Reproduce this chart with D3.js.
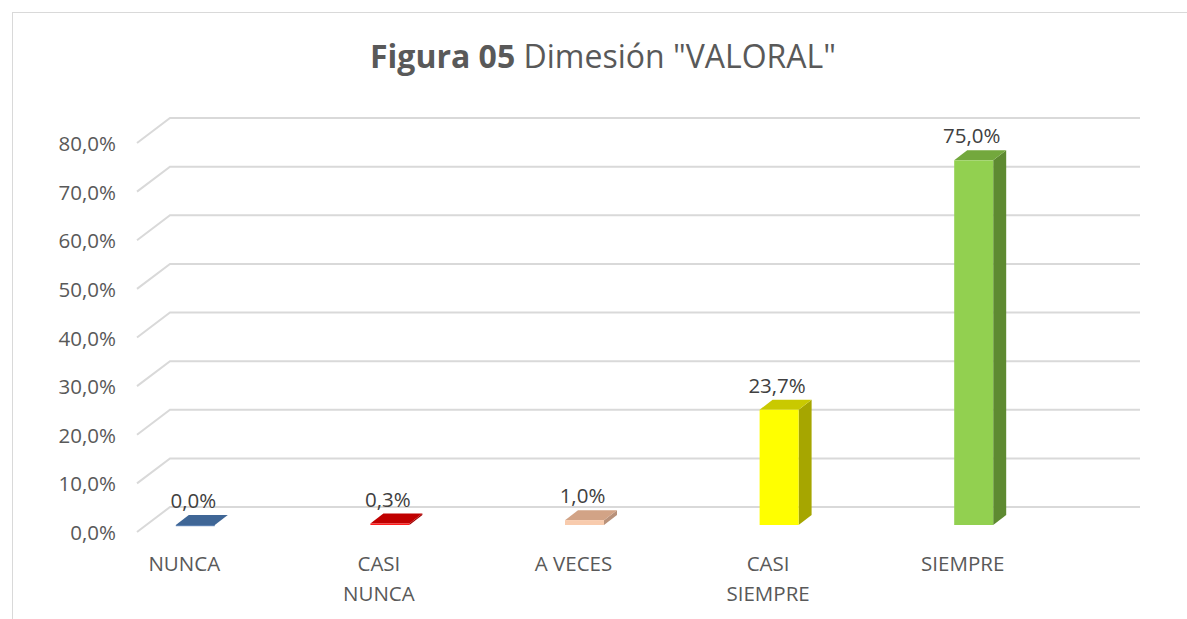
<!DOCTYPE html>
<html lang="es">
<head>
<meta charset="UTF-8">
<title>Figura 05</title>
<script src="https://d3js.org/d3.v7.min.js"></script>
<style>
  body { margin: 0; background: #fff; overflow: hidden; }
  svg { display: block; font-family: 'Open Sans', 'Noto Sans', sans-serif; }
  .grid { stroke: #d9d9d9; stroke-width: 2; fill: none; }
  .ytick { fill: #595959; font-size: 20.5px; text-anchor: end; }
  .xcat { fill: #595959; font-size: 20.5px; text-anchor: middle; }
  .val { fill: #404040; font-size: 20.5px; text-anchor: middle; }
</style>
</head>
<body>
<svg width="1187" height="619"></svg>
<script>
const categories = [["NUNCA"], ["CASI", "NUNCA"], ["A VECES"], ["CASI", "SIEMPRE"], ["SIEMPRE"]];
const values = [0.0, 0.3, 1.0, 23.7, 75.0];
const yTicks = [0, 10, 20, 30, 40, 50, 60, 70, 80];
const valueLabels = ["0,0%", "0,3%", "1,0%", "23,7%", "75,0%"];
const frontColors = ["#5a7fb0", "#ff1a1a", "#f8cbad", "#ffff00", "#92d050"];
const topColors = ["#3f6696", "#c00000", "#d2a386", "#c9c900", "#73a83d"];
const sideColors = ["#2f4f78", "#a00000", "#b8917a", "#a6a600", "#5e8a31"];

const svg = d3.select("svg");
const fmt = d => d.toFixed(1).replace(".", ",") + "%";

// chart frame
svg.append("rect").attr("x", 12.5).attr("y", 12.5).attr("width", 1200).attr("height", 640)
  .attr("fill", "none").attr("stroke", "#d9d9d9").attr("stroke-width", 1);

// title
svg.append("text").attr("x", 603).attr("y", 68).attr("text-anchor", "middle")
  .attr("fill", "#595959").style("font-size", "32px")
  .call(t => {
    t.append("tspan").attr("font-weight", "bold").text("Figura 05");
    t.append("tspan").text(" Dimesión \"VALORAL\"");
  });

// scales: front wall plane and bar plane
const yFront = d3.scaleLinear().domain([0, 80]).range([532, 143]);
const yBar = d3.scaleLinear().domain([0, 80]).range([525, 136]);
const depth = { dx: 33, dy: -25 };
const barDepth = { dx: 13, dy: -10 };
const xLeft = 137, xRight = 1140;
const x = d3.scaleBand().domain(d3.range(categories.length)).range([98, 1071]).padding(0);
const barW = 39;

// gridlines (floor diagonal + back wall)
const grid = svg.append("g");
yTicks.forEach(t => {
  const y0 = yFront(t);
  grid.append("path").attr("class", "grid")
    .attr("d", `M${xLeft},${y0} L${xLeft + depth.dx},${y0 + depth.dy} L${xRight},${y0 + depth.dy}`);
  svg.append("text").attr("class", "ytick").attr("x", 116).attr("y", y0 + 8).text(fmt(t));
});

// bars
values.forEach((v, i) => {
  const xc = x(i) + x.bandwidth() / 2;
  const x0 = xc - barW / 2, x1 = xc + barW / 2;
  const yt = yBar(v), yb = yBar(0);
  const g = svg.append("g");
  // side
  g.append("path").attr("fill", sideColors[i])
    .attr("d", `M${x1},${yt} L${x1 + barDepth.dx},${yt + barDepth.dy} L${x1 + barDepth.dx},${yb + barDepth.dy} L${x1},${yb}Z`);
  // top
  g.append("path").attr("fill", topColors[i])
    .attr("d", `M${x0},${yt} L${x0 + barDepth.dx},${yt + barDepth.dy} L${x1 + barDepth.dx},${yt + barDepth.dy} L${x1},${yt}Z`);
  // front
  g.append("rect").attr("fill", frontColors[i])
    .attr("x", x0).attr("y", yt).attr("width", barW).attr("height", Math.max(yb - yt, 1.2));

  svg.append("text").attr("class", "val").attr("x", xc - 2).attr("y", yt - 17).text(valueLabels[i]);

  const lbl = svg.append("text").attr("class", "xcat").attr("x", xc - 11).attr("y", 571);
  categories[i].forEach((s, k) => {
    lbl.append("tspan").attr("x", xc - 11).attr("dy", k ? 30 : 0).text(s);
  });
});
</script>
</body>
</html>
